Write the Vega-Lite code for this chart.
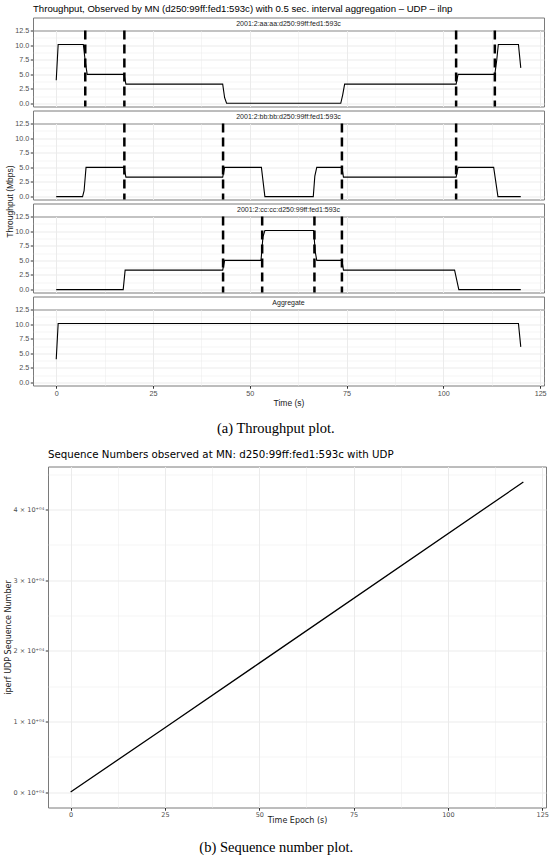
{
  "$schema": "https://vega.github.io/schema/vega-lite/v6.json",
  "padding": {"left": 3, "top": 2.5, "right": 0, "bottom": 0},
  "background": "white",
  "config": {
    "view": {"stroke": "#7a7a7a", "strokeWidth": 1},
    "title": {"fontWeight": "normal", "color": "#000000"},
    "axis": {
      "labelFont": "Liberation Sans", "titleFont": "Liberation Sans",
      "labelFontSize": 7.2, "titleFontSize": 8.5, "titleFontWeight": "normal",
      "labelColor": "#4d4d4d", "titleColor": "#1a1a1a",
      "tickColor": "#333333", "tickSize": 2.75, "labelPadding": 1.5,
      "domain": false, "gridColor": "#ebebeb",
      "labelOverlap": false, "labelFlush": false, "titlePadding": 2
    }
  },
  "datasets": {
    "tput": [
      {"p": "A", "t": 0, "v": 4.0}, {"p": "A", "t": 0.5, "v": 10.1}, {"p": "A", "t": 7.0, "v": 10.1}, {"p": "A", "t": 7.5, "v": 7.2}, {"p": "A", "t": 8.0, "v": 5.0}, {"p": "A", "t": 17.5, "v": 5.0}, {"p": "A", "t": 18.0, "v": 3.33}, {"p": "A", "t": 43.0, "v": 3.33}, {"p": "A", "t": 43.5, "v": 1.0}, {"p": "A", "t": 44.0, "v": 0.05}, {"p": "A", "t": 73.5, "v": 0.05}, {"p": "A", "t": 74.0, "v": 1.5}, {"p": "A", "t": 74.5, "v": 3.33}, {"p": "A", "t": 103.3, "v": 3.33}, {"p": "A", "t": 103.8, "v": 5.0}, {"p": "A", "t": 113.3, "v": 5.0}, {"p": "A", "t": 113.8, "v": 7.5}, {"p": "A", "t": 114.2, "v": 10.1}, {"p": "A", "t": 119.4, "v": 10.1}, {"p": "A", "t": 120, "v": 6.1},
      {"p": "B", "t": 0, "v": 0}, {"p": "B", "t": 6.8, "v": 0}, {"p": "B", "t": 7.2, "v": 1.0}, {"p": "B", "t": 7.7, "v": 5.0}, {"p": "B", "t": 17.5, "v": 5.0}, {"p": "B", "t": 18.0, "v": 3.33}, {"p": "B", "t": 43.0, "v": 3.33}, {"p": "B", "t": 43.5, "v": 5.0}, {"p": "B", "t": 53.0, "v": 5.0}, {"p": "B", "t": 53.9, "v": 0}, {"p": "B", "t": 66.4, "v": 0}, {"p": "B", "t": 66.8, "v": 3.5}, {"p": "B", "t": 67.3, "v": 5.0}, {"p": "B", "t": 73.8, "v": 5.0}, {"p": "B", "t": 74.2, "v": 3.33}, {"p": "B", "t": 103.3, "v": 3.33}, {"p": "B", "t": 103.8, "v": 5.0}, {"p": "B", "t": 113.0, "v": 5.0}, {"p": "B", "t": 114.1, "v": 0}, {"p": "B", "t": 120, "v": 0},
      {"p": "C", "t": 0, "v": 0}, {"p": "C", "t": 17.3, "v": 0}, {"p": "C", "t": 17.8, "v": 3.33}, {"p": "C", "t": 43.0, "v": 3.33}, {"p": "C", "t": 43.5, "v": 5.0}, {"p": "C", "t": 52.9, "v": 5.0}, {"p": "C", "t": 53.4, "v": 9.0}, {"p": "C", "t": 53.9, "v": 10.1}, {"p": "C", "t": 66.5, "v": 10.1}, {"p": "C", "t": 66.9, "v": 6.5}, {"p": "C", "t": 67.3, "v": 5.0}, {"p": "C", "t": 73.8, "v": 5.0}, {"p": "C", "t": 74.2, "v": 3.33}, {"p": "C", "t": 102.9, "v": 3.33}, {"p": "C", "t": 104.0, "v": 0}, {"p": "C", "t": 120, "v": 0},
      {"p": "D", "t": 0, "v": 4.0}, {"p": "D", "t": 0.5, "v": 10.1}, {"p": "D", "t": 119.4, "v": 10.1}, {"p": "D", "t": 120, "v": 6.1}
    ],
    "ho": [
      {"p": "A", "t": 7.5}, {"p": "A", "t": 17.6}, {"p": "A", "t": 103.3}, {"p": "A", "t": 113.3},
      {"p": "B", "t": 17.6}, {"p": "B", "t": 43.1}, {"p": "B", "t": 73.8}, {"p": "B", "t": 103.3},
      {"p": "C", "t": 43.1}, {"p": "C", "t": 53.2}, {"p": "C", "t": 66.7}, {"p": "C", "t": 73.8}
    ],
    "strips": [
      {"p": "A", "label": "2001:2:aa:aa:d250:99ff:fed1:593c"},
      {"p": "B", "label": "2001:2:bb:bb:d250:99ff:fed1:593c"},
      {"p": "C", "label": "2001:2:cc:cc:d250:99ff:fed1:593c"},
      {"p": "D", "label": "Aggregate"}
    ],
    "seq": [
      {"t": 0, "n": 0}, {"t": 25, "n": 9100}, {"t": 50, "n": 18250}, {"t": 120, "n": 43900}
    ],
    "anchor": [{"v": 0}]
  },
  "spacing": 14,
  "vconcat": [
    {
      "title": {"text": "(a) Throughput plot.", "orient": "bottom", "anchor": "middle", "frame": "bounds", "font": "Liberation Serif", "fontSize": 14.5, "offset": 14},
      "spacing": -5,
      "hconcat": [
        {
          "width": 1, "height": 367,
          "data": {"name": "anchor"},
          "view": {"stroke": null},
          "mark": {"type": "point", "opacity": 0},
          "encoding": {
            "y": {"field": "v", "type": "quantitative",
              "axis": {"title": "Throughput (Mbps)", "labels": false, "ticks": false, "grid": false, "domain": false, "titlePadding": 1}}
          }
        },
        {
          "spacing": 1,
          "vconcat": [
            {
              "spacing": 0, "bounds": "flush",
              "vconcat": [
                {
                  "title": {"text": "Throughput, Observed by MN (d250:99ff:fed1:593c) with 0.5 sec. interval aggregation – UDP – ilnp", "anchor": "start", "frame": "group", "offset": 4, "fontSize": 9.6, "font": "Liberation Sans"},
                  "width": 511, "height": 13,
                  "data": {"name": "strips"},
                  "transform": [{"filter": "datum.p === 'A'"}],
                  "view": {"fill": "white", "stroke": "#7a7a7a"},
                  "mark": {"type": "text", "font": "Liberation Sans", "fontSize": 7, "color": "#1a1a1a"},
                  "encoding": {"text": {"field": "label"}}
                },
                {
                  "width": 511, "height": 76,
                  "layer": [
                    {
                      "data": {"name": "tput"},
                      "transform": [{"filter": "datum.p === 'A'"}],
                      "mark": {"type": "line", "color": "black", "strokeWidth": 1.1},
                      "encoding": {
                        "x": {"field": "t", "type": "quantitative", "scale": {"domain": [-6, 126], "nice": false, "zero": false},
                          "axis": {"title": null, "labels": false, "ticks": false, "values": [0, 12.5, 25, 37.5, 50, 62.5, 75, 87.5, 100, 112.5, 125],
                            "gridWidth": {"condition": {"test": "datum.value % 25 !== 0", "value": 0.5}, "value": 1}}},
                        "y": {"field": "v", "type": "quantitative", "scale": {"domain": [-0.5, 12.5], "nice": false, "zero": false},
                          "axis": {"title": null, "values": [0, 1.25, 2.5, 3.75, 5, 6.25, 7.5, 8.75, 10, 11.25, 12.5],
                            "labelExpr": "datum.value % 2.5 === 0 ? format(datum.value, '.1f') : ''",
                            "tickOpacity": {"condition": {"test": "datum.value % 2.5 !== 0", "value": 0}, "value": 1},
                            "gridWidth": {"condition": {"test": "datum.value % 2.5 !== 0", "value": 0.5}, "value": 1}}}
                      }
                    },
                    {
                      "data": {"name": "ho"},
                      "transform": [{"filter": "datum.p === 'A'"}],
                      "mark": {"type": "rule", "color": "black", "strokeWidth": 2.5, "strokeDash": [9, 5]},
                      "encoding": {"x": {"field": "t", "type": "quantitative"}}
                    }
                  ]
                }
              ]
            },
            {
              "spacing": 0, "bounds": "flush",
              "vconcat": [
                {
                  "width": 511, "height": 13,
                  "data": {"name": "strips"},
                  "transform": [{"filter": "datum.p === 'B'"}],
                  "view": {"fill": "white", "stroke": "#7a7a7a"},
                  "mark": {"type": "text", "font": "Liberation Sans", "fontSize": 7, "color": "#1a1a1a"},
                  "encoding": {"text": {"field": "label"}}
                },
                {
                  "width": 511, "height": 76,
                  "layer": [
                    {
                      "data": {"name": "tput"},
                      "transform": [{"filter": "datum.p === 'B'"}],
                      "mark": {"type": "line", "color": "black", "strokeWidth": 1.1},
                      "encoding": {
                        "x": {"field": "t", "type": "quantitative", "scale": {"domain": [-6, 126], "nice": false, "zero": false},
                          "axis": {"title": null, "labels": false, "ticks": false, "values": [0, 12.5, 25, 37.5, 50, 62.5, 75, 87.5, 100, 112.5, 125],
                            "gridWidth": {"condition": {"test": "datum.value % 25 !== 0", "value": 0.5}, "value": 1}}},
                        "y": {"field": "v", "type": "quantitative", "scale": {"domain": [-0.5, 12.5], "nice": false, "zero": false},
                          "axis": {"title": null, "values": [0, 1.25, 2.5, 3.75, 5, 6.25, 7.5, 8.75, 10, 11.25, 12.5],
                            "labelExpr": "datum.value % 2.5 === 0 ? format(datum.value, '.1f') : ''",
                            "tickOpacity": {"condition": {"test": "datum.value % 2.5 !== 0", "value": 0}, "value": 1},
                            "gridWidth": {"condition": {"test": "datum.value % 2.5 !== 0", "value": 0.5}, "value": 1}}}
                      }
                    },
                    {
                      "data": {"name": "ho"},
                      "transform": [{"filter": "datum.p === 'B'"}],
                      "mark": {"type": "rule", "color": "black", "strokeWidth": 2.5, "strokeDash": [9, 5]},
                      "encoding": {"x": {"field": "t", "type": "quantitative"}}
                    }
                  ]
                }
              ]
            },
            {
              "spacing": 0, "bounds": "flush",
              "vconcat": [
                {
                  "width": 511, "height": 13,
                  "data": {"name": "strips"},
                  "transform": [{"filter": "datum.p === 'C'"}],
                  "view": {"fill": "white", "stroke": "#7a7a7a"},
                  "mark": {"type": "text", "font": "Liberation Sans", "fontSize": 7, "color": "#1a1a1a"},
                  "encoding": {"text": {"field": "label"}}
                },
                {
                  "width": 511, "height": 76,
                  "layer": [
                    {
                      "data": {"name": "tput"},
                      "transform": [{"filter": "datum.p === 'C'"}],
                      "mark": {"type": "line", "color": "black", "strokeWidth": 1.1},
                      "encoding": {
                        "x": {"field": "t", "type": "quantitative", "scale": {"domain": [-6, 126], "nice": false, "zero": false},
                          "axis": {"title": null, "labels": false, "ticks": false, "values": [0, 12.5, 25, 37.5, 50, 62.5, 75, 87.5, 100, 112.5, 125],
                            "gridWidth": {"condition": {"test": "datum.value % 25 !== 0", "value": 0.5}, "value": 1}}},
                        "y": {"field": "v", "type": "quantitative", "scale": {"domain": [-0.5, 12.5], "nice": false, "zero": false},
                          "axis": {"title": null, "values": [0, 1.25, 2.5, 3.75, 5, 6.25, 7.5, 8.75, 10, 11.25, 12.5],
                            "labelExpr": "datum.value % 2.5 === 0 ? format(datum.value, '.1f') : ''",
                            "tickOpacity": {"condition": {"test": "datum.value % 2.5 !== 0", "value": 0}, "value": 1},
                            "gridWidth": {"condition": {"test": "datum.value % 2.5 !== 0", "value": 0.5}, "value": 1}}}
                      }
                    },
                    {
                      "data": {"name": "ho"},
                      "transform": [{"filter": "datum.p === 'C'"}],
                      "mark": {"type": "rule", "color": "black", "strokeWidth": 2.5, "strokeDash": [9, 5]},
                      "encoding": {"x": {"field": "t", "type": "quantitative"}}
                    }
                  ]
                }
              ]
            },
            {
              "spacing": 0, "bounds": "flush",
              "vconcat": [
                {
                  "width": 511, "height": 13,
                  "data": {"name": "strips"},
                  "transform": [{"filter": "datum.p === 'D'"}],
                  "view": {"fill": "white", "stroke": "#7a7a7a"},
                  "mark": {"type": "text", "font": "Liberation Sans", "fontSize": 7, "color": "#1a1a1a"},
                  "encoding": {"text": {"field": "label"}}
                },
                {
                  "width": 511, "height": 76,
                  "data": {"name": "tput"},
                  "transform": [{"filter": "datum.p === 'D'"}],
                  "mark": {"type": "line", "color": "black", "strokeWidth": 1.1},
                  "encoding": {
                    "x": {"field": "t", "type": "quantitative", "scale": {"domain": [-6, 126], "nice": false, "zero": false},
                      "axis": {"title": "Time (s)", "values": [0, 12.5, 25, 37.5, 50, 62.5, 75, 87.5, 100, 112.5, 125],
                        "labelExpr": "datum.value % 25 === 0 ? datum.label : ''",
                        "tickOpacity": {"condition": {"test": "datum.value % 25 !== 0", "value": 0}, "value": 1},
                        "gridWidth": {"condition": {"test": "datum.value % 25 !== 0", "value": 0.5}, "value": 1}}},
                    "y": {"field": "v", "type": "quantitative", "scale": {"domain": [-0.5, 12.5], "nice": false, "zero": false},
                      "axis": {"title": null, "values": [0, 1.25, 2.5, 3.75, 5, 6.25, 7.5, 8.75, 10, 11.25, 12.5],
                        "labelExpr": "datum.value % 2.5 === 0 ? format(datum.value, '.1f') : ''",
                        "tickOpacity": {"condition": {"test": "datum.value % 2.5 !== 0", "value": 0}, "value": 1},
                        "gridWidth": {"condition": {"test": "datum.value % 2.5 !== 0", "value": 0.5}, "value": 1}}}
                  }
                }
              ]
            }
          ]
        }
      ]
    },
    {
      "title": {"text": "(b) Sequence number plot.", "orient": "bottom", "anchor": "middle", "frame": "bounds", "font": "Liberation Serif", "fontSize": 14.5, "offset": 15.5},
      "spacing": 0,
      "bounds": "flush",
      "hconcat": [
        {
          "width": 33, "height": 341,
          "data": {"name": "anchor"},
          "view": {"stroke": null},
          "mark": {"type": "point", "opacity": 0},
          "encoding": {}
        },
        {
          "title": {"text": "Sequence Numbers observed at MN: d250:99ff:fed1:593c with UDP", "anchor": "start", "frame": "group", "font": "DejaVu Sans", "fontSize": 10.25, "offset": 6},
          "width": 498, "height": 341,
          "data": {"name": "seq"},
          "mark": {"type": "line", "color": "black", "strokeWidth": 1.3},
          "encoding": {
            "x": {"field": "t", "type": "quantitative", "scale": {"domain": [-6, 126], "nice": false, "zero": false},
              "axis": {"title": "Time Epoch (s)", "labelFont": "DejaVu Sans", "titleFont": "DejaVu Sans", "labelFontSize": 6.5, "titleFontSize": 8, "titlePadding": -1.5,
                "values": [0, 12.5, 25, 37.5, 50, 62.5, 75, 87.5, 100, 112.5, 125],
                "labelExpr": "datum.value % 25 === 0 ? datum.label : ''",
                "tickOpacity": {"condition": {"test": "datum.value % 25 !== 0", "value": 0}, "value": 1},
                "gridWidth": {"condition": {"test": "datum.value % 25 !== 0", "value": 0.5}, "value": 1}}},
            "y": {"field": "n", "type": "quantitative", "scale": {"domain": [-2195, 46095], "nice": false, "zero": false},
              "axis": {"title": "iperf UDP Sequence Number", "labelFont": "DejaVu Sans", "titleFont": "DejaVu Sans", "labelFontSize": 6.5, "titleFontSize": 8, "titlePadding": 1,
                "values": [0, 5000, 10000, 15000, 20000, 25000, 30000, 35000, 40000, 45000],
                "labelExpr": "datum.value % 10000 === 0 ? (datum.value / 10000) + ' × 10⁺⁰⁴' : ''",
                "tickOpacity": {"condition": {"test": "datum.value % 10000 !== 0", "value": 0}, "value": 1},
                "gridWidth": {"condition": {"test": "datum.value % 10000 !== 0", "value": 0.5}, "value": 1}}}
          }
        }
      ]
    }
  ]
}
